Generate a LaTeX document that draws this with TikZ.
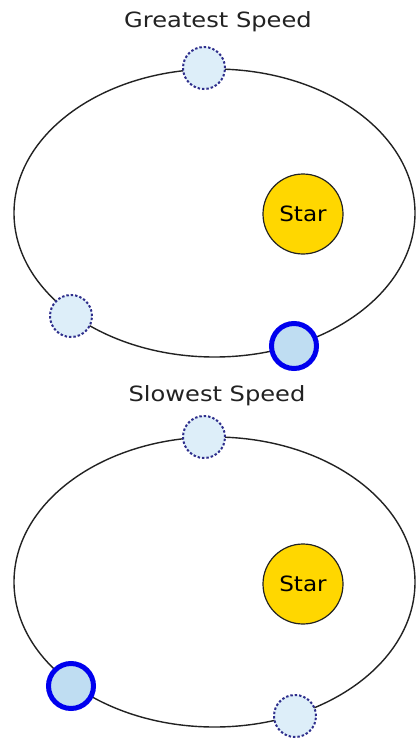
\documentclass[tikz,border=0pt]{standalone}
\usepackage{fontspec}
\setmainfont{DejaVu Sans}
\definecolor{orbitc}{HTML}{222222}
\definecolor{starfill}{HTML}{FFD700}
\definecolor{ghostfill}{HTML}{DDEEF9}
\definecolor{ghostline}{HTML}{2E2E8C}
\definecolor{planetfill}{HTML}{BFDDF2}
\definecolor{planetline}{HTML}{0000EE}
\begin{document}
\begin{tikzpicture}[x=1pt,y=-1pt,
  orbit/.style={draw=orbitc,line width=1.4pt},
  starbody/.style={circle,draw=orbitc,line width=1.2pt,fill=starfill,minimum size=80pt,inner sep=0pt,font=\fontsize{21}{24}\selectfont},
  ghost/.style={circle,draw=ghostline,line width=2pt,dash pattern=on 2.4pt off 2pt,fill=ghostfill,minimum size=42pt,inner sep=0pt},
  planet/.style={circle,draw=planetline,line width=5pt,fill=planetfill,minimum size=45pt,inner sep=0pt},
  title/.style={anchor=base,inner sep=0pt,font=\fontsize{21}{24}\selectfont,text=orbitc}]
\useasboundingbox (0,0) rectangle (417,739);
\fill[white] (0,0) rectangle (417,739);
% top panel
\node[title] (t1) at (218,27) {\scalebox{1.15}[1]{Greatest Speed}};
\draw[orbit] (214.5,213) ellipse [x radius=200.5pt, y radius=144pt];
\node[starbody] (s1) at (303,214) {\scalebox{1.1}[1]{Star}};
\node[ghost] (g1a) at (204,68) {};
\node[ghost] (g1b) at (71,316) {};
\node[planet] (p1) at (294,346) {};
% bottom panel
\node[title] (t2) at (217,401) {\scalebox{1.15}[1]{Slowest Speed}};
\draw[orbit] (214.5,582) ellipse [x radius=200.5pt, y radius=145pt];
\node[starbody] (s2) at (303,584) {\scalebox{1.1}[1]{Star}};
\node[ghost] (g2a) at (204,437) {};
\node[ghost] (g2b) at (295,716) {};
\node[planet] (p2) at (71,686) {};
\end{tikzpicture}
\end{document}
